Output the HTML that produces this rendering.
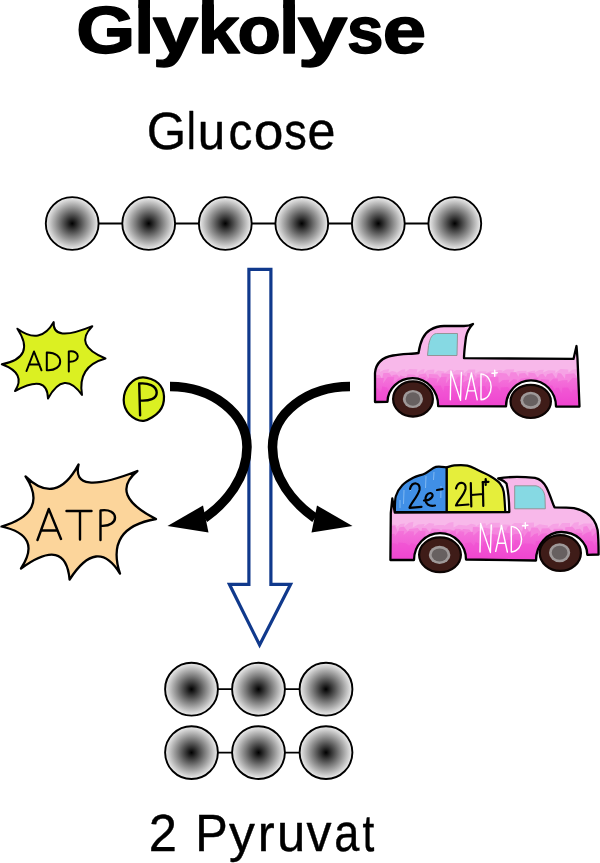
<!DOCTYPE html>
<html><head><meta charset="utf-8"><title>Glykolyse</title>
<style>
html,body{margin:0;padding:0;background:#fff;}
body{width:600px;height:863px;overflow:hidden;}
svg{display:block;}
text{font-family:"Liberation Sans",sans-serif;fill:#000;}
</style></head><body>
<div id="stage" style="will-change:transform;width:600px;height:863px;background:#fff;">
<svg width="600" height="863" viewBox="0 0 600 863">
<defs>
<radialGradient id="ball" cx="50%" cy="50%" r="50%">
<stop offset="0" stop-color="#000"/>
<stop offset="0.5" stop-color="#7b7b7b"/>
<stop offset="1" stop-color="#f0f0f0"/>
</radialGradient>
<linearGradient id="pink1" gradientUnits="userSpaceOnUse" x1="0" y1="377" x2="0" y2="406">
<stop offset="0" stop-color="#f474da"/>
<stop offset="0.5" stop-color="#f25ed6"/>
<stop offset="1" stop-color="#ee3bcd"/>
</linearGradient>
<linearGradient id="pink2" gradientUnits="userSpaceOnUse" x1="0" y1="531" x2="0" y2="560">
<stop offset="0" stop-color="#f474da"/>
<stop offset="0.5" stop-color="#f25ed6"/>
<stop offset="1" stop-color="#ee3bcd"/>
</linearGradient>
<clipPath id="c1"><path d="M375 402L375 373C376 362 384 357 393 355.5C402 354 412 354 418.5 353C420 343 423 334 430 330C435 327 440 326 444 326L464 326C468 326 471 325 473 324C469 328 467 332 466 337C465 345 464 352 464 358.2L573.5 358.9L576.5 346L577.5 358.9L579.5 406.5L556.0 406.6C556.0 392.1 544.8 380.3 531.0 380.3C517.2 380.3 506.0 392.0 506.0 406.4L438.2 406.2C438.2 390.7 426.8 378.1 412.7 378.1C398.8 378.1 387.5 388.7 387.5 401.8L375 402Z"/></clipPath>
<clipPath id="c2"><path d="M392.3 498.5L394.8 512.6L509.3 512C509.2 502 508.5 492 506.5 483.5C504 481 501 479.5 498.2 478.4C506 477 520 476.5 535 477.8C540.5 479 544 482.5 546.5 487.5C549.5 493.5 551.5 500 553.5 505L554.5 507.3C562 507.3 568 507.3 574 508.2C579 509.3 583 510.8 586.5 513C592 516.5 596 522 597.6 530C598.4 537 598.6 546 598.6 554.5L587.3 554.8C587.3 542.2 575.7 532.0 561.3 532.0C547.3 532.0 536.0 544.8 536.0 560.5L466.0 559.5C466.0 544.9 454.4 533.1 440.0 533.1C425.6 533.1 414.0 545.1 414.0 560.0L390.4 560L390.8 513Z"/></clipPath>
</defs>
<rect width="600" height="863" fill="#fff"/>
<text transform="translate(76.15,53.00) scale(1.1421,1.0000)" font-size="66.40" font-weight="bold" stroke="#000" stroke-width="1.50" stroke-linejoin="round">G</text><text transform="translate(134.27,53.00) scale(1.0852,1.0000)" font-size="66.40" font-weight="bold" stroke="#000" stroke-width="1.50" stroke-linejoin="round">l</text><text transform="translate(152.87,53.00) scale(1.2329,1.0000)" font-size="66.40" font-weight="bold" stroke="#000" stroke-width="1.50" stroke-linejoin="round">y</text><text transform="translate(197.56,53.00) scale(1.1378,1.0000)" font-size="66.40" font-weight="bold" stroke="#000" stroke-width="1.50" stroke-linejoin="round">k</text><text transform="translate(237.53,53.00) scale(1.0707,1.0000)" font-size="66.40" font-weight="bold" stroke="#000" stroke-width="1.50" stroke-linejoin="round">o</text><text transform="translate(279.00,53.00) scale(1.1041,1.0000)" font-size="66.40" font-weight="bold" stroke="#000" stroke-width="1.50" stroke-linejoin="round">l</text><text transform="translate(297.81,53.00) scale(1.3437,1.0000)" font-size="66.40" font-weight="bold" stroke="#000" stroke-width="1.50" stroke-linejoin="round">y</text><text transform="translate(346.94,53.00) scale(0.9889,1.0000)" font-size="66.40" font-weight="bold" stroke="#000" stroke-width="1.50" stroke-linejoin="round">s</text><text transform="translate(382.84,53.00) scale(1.1766,1.0000)" font-size="66.40" font-weight="bold" stroke="#000" stroke-width="1.50" stroke-linejoin="round">e</text>
<path d="M138.3 0H150V8H138.3ZM202.2 0H213.8V8H202.2ZM283.2 0H294.9V8H283.2Z" fill="#000"/>
<text transform="translate(146.66,149.40) scale(1.4083,1.4306)" font-size="36.00" stroke="#000" stroke-width="0.28" stroke-linejoin="round">G</text><text transform="translate(186.73,149.40) scale(1.1312,1.4306)" font-size="36.00" stroke="#000" stroke-width="0.28" stroke-linejoin="round">l</text><text transform="translate(197.69,149.40) scale(1.3672,1.4306)" font-size="36.00" stroke="#000" stroke-width="0.28" stroke-linejoin="round">u</text><text transform="translate(228.48,149.40) scale(1.3265,1.4306)" font-size="36.00" stroke="#000" stroke-width="0.28" stroke-linejoin="round">c</text><text transform="translate(253.67,149.40) scale(1.4822,1.4306)" font-size="36.00" stroke="#000" stroke-width="0.28" stroke-linejoin="round">o</text><text transform="translate(284.21,149.40) scale(1.2519,1.4306)" font-size="36.00" stroke="#000" stroke-width="0.28" stroke-linejoin="round">s</text><text transform="translate(307.59,149.40) scale(1.3954,1.4306)" font-size="36.00" stroke="#000" stroke-width="0.28" stroke-linejoin="round">e</text>
<text transform="translate(148.67,851.40) scale(1.4073,1.4167)" font-size="36.00" stroke="#000" stroke-width="0.28" stroke-linejoin="round">2</text><text transform="translate(195.20,851.40) scale(1.3533,1.4167)" font-size="36.00" stroke="#000" stroke-width="0.28" stroke-linejoin="round">P</text><text transform="translate(228.88,851.40) scale(1.4384,1.4167)" font-size="36.00" stroke="#000" stroke-width="0.28" stroke-linejoin="round">y</text><text transform="translate(257.74,851.40) scale(1.4115,1.4167)" font-size="36.00" stroke="#000" stroke-width="0.28" stroke-linejoin="round">r</text><text transform="translate(276.90,851.40) scale(1.4119,1.4167)" font-size="36.00" stroke="#000" stroke-width="0.28" stroke-linejoin="round">u</text><text transform="translate(306.50,851.40) scale(1.3893,1.4167)" font-size="36.00" stroke="#000" stroke-width="0.28" stroke-linejoin="round">v</text><text transform="translate(334.29,851.40) scale(1.2509,1.4167)" font-size="36.00" stroke="#000" stroke-width="0.28" stroke-linejoin="round">a</text><text transform="translate(362.53,851.40) scale(1.1792,1.4167)" font-size="36.00" stroke="#000" stroke-width="0.28" stroke-linejoin="round">t</text>
<line x1="72" y1="223.5" x2="454" y2="223.5" stroke="#000" stroke-width="1.8"/>
<circle cx="72.2" cy="223.5" r="26.4" fill="url(#ball)" stroke="#000" stroke-width="1.9"/>
<circle cx="148.7" cy="223.5" r="26.4" fill="url(#ball)" stroke="#000" stroke-width="1.9"/>
<circle cx="225.3" cy="223.5" r="26.4" fill="url(#ball)" stroke="#000" stroke-width="1.9"/>
<circle cx="301.8" cy="223.5" r="26.4" fill="url(#ball)" stroke="#000" stroke-width="1.9"/>
<circle cx="378.3" cy="223.5" r="26.4" fill="url(#ball)" stroke="#000" stroke-width="1.9"/>
<circle cx="454.8" cy="223.5" r="26.4" fill="url(#ball)" stroke="#000" stroke-width="1.9"/>
<line x1="192" y1="689.2" x2="327" y2="689.2" stroke="#000" stroke-width="1.8"/>
<circle cx="191.5" cy="689.2" r="26.4" fill="url(#ball)" stroke="#000" stroke-width="1.9"/>
<circle cx="258.5" cy="689.2" r="26.4" fill="url(#ball)" stroke="#000" stroke-width="1.9"/>
<circle cx="326.0" cy="689.2" r="26.4" fill="url(#ball)" stroke="#000" stroke-width="1.9"/>
<line x1="192" y1="752.6" x2="327" y2="752.6" stroke="#000" stroke-width="1.8"/>
<circle cx="191.5" cy="752.6" r="26.4" fill="url(#ball)" stroke="#000" stroke-width="1.9"/>
<circle cx="258.5" cy="752.6" r="26.4" fill="url(#ball)" stroke="#000" stroke-width="1.9"/>
<circle cx="326.0" cy="752.6" r="26.4" fill="url(#ball)" stroke="#000" stroke-width="1.9"/>
<path d="M248.9 269.3L270.9 269.3L270.9 584.3L290.6 584.3L259.6 645L229.4 584.3L248.9 584.3Z" fill="none" stroke="#10398c" stroke-width="3.2" stroke-linejoin="miter"/>
<path d="M170 386.5C212.4 386.5 247 413.6 247 447C247 478 226 503 204.5 518" fill="none" stroke="#000" stroke-width="9.5"/>
<path d="M167.5 526L203 505.5L208.5 532.5Z" fill="#000"/>
<path d="M350 386.5C306.6 386.5 272.5 413.6 272.5 447C272.5 478 293.5 503 315 518" fill="none" stroke="#000" stroke-width="9.5"/>
<path d="M352.5 526L317 505.5L311.5 532.5Z" fill="#000"/>
<path d="M53.7 322.0Q52.0 342.9 92.3 326.2Q73.1 345.6 105.5 358.5Q77.2 366.2 82.0 395.0Q64.0 369.2 48.0 398.5Q47.5 373.2 15.0 391.0Q26.6 373.4 1.8 364.3Q36.4 357.5 17.4 328.7Q40.5 345.6 53.7 322.0Z" fill="#dbf022" stroke="#000" stroke-width="2" stroke-linejoin="round"/>
<g fill="none" stroke="#000" stroke-width="2" stroke-linecap="round" stroke-linejoin="round"><path d="M26.5 371L34 351.5L41.5 370.3M28.8 364.5L39.5 364.5"/><path d="M46.8 352.5L46.8 370.2C64.3 371.5 65 352 46.8 352.5"/><path d="M68.8 371.5L68.8 351.5C80.5 349.5 81 362.5 69 361.8"/></g>
<path d="M142.7 377.4C147.5 377.2 154.8 380.0 158.3 383.2C161.9 386.4 163.8 391.8 164.0 396.5C164.2 401.2 162.8 407.1 159.4 411.2C156.0 415.2 148.8 420.2 143.8 420.8C138.8 421.4 132.8 418.0 129.5 414.5C126.2 411.0 123.7 405.0 123.7 400.0C123.7 395.0 126.3 388.1 129.5 384.3C132.7 380.5 137.9 377.6 142.7 377.4Z" fill="#dbf022" stroke="#000" stroke-width="2.2"/>
<path d="M140.1 415.2L139.2 383.5C148 382.6 156.5 385.5 156.7 392.5C156.8 399 149 401 140.7 400.6" fill="none" stroke="#000" stroke-width="2.4" stroke-linecap="round" stroke-linejoin="round"/>
<path d="M78.6 464.4Q70.8 497.1 137.4 471.0Q108.3 495.0 156.0 519.0Q105.0 527.7 120.0 573.6Q97.2 536.4 69.6 579.6Q65.7 536.0 21.0 568.5Q42.8 535.5 1.5 526.5Q49.5 512.5 25.5 476.4Q56.0 506.4 78.6 464.4Z" fill="#fcd59b" stroke="#000" stroke-width="2.3" stroke-linejoin="round"/>
<g fill="none" stroke="#000" stroke-width="2.4" stroke-linecap="round" stroke-linejoin="round"><path d="M37.5 540L48.8 509L61 539M41.5 530.5L57 530.5"/><path d="M66.5 511L91.5 511M80 511L80 539.5"/><path d="M100.5 540L100.5 510.5C119.5 507.5 120 527 101 525.8"/></g>
<g clip-path="url(#c1)"><rect x="367" y="313" width="220" height="110" fill="#f8b8ea"/><path d="M372.0 433.8L372.0 372.4L376.8 369.2L380.2 368.9L380.0 371.9L383.6 370.1L389.2 369.1L388.3 372.6L392.1 370.9L396.4 371.9L396.4 373.0L401.8 369.8L405.1 369.3L405.4 372.1L409.5 369.1L417.4 369.3L416.7 373.1L421.3 369.7L424.6 369.0L423.7 373.2L427.8 369.9L434.4 369.4L434.0 373.4L438.0 370.5L444.5 371.4L444.3 373.3L449.7 369.5L453.4 370.1L453.1 372.1L456.6 370.0L463.6 370.2L463.8 373.6L468.7 369.6L475.2 369.5L475.1 373.5L479.6 371.2L486.6 371.6L485.6 373.1L490.8 371.3L495.5 371.7L495.1 371.8L498.9 370.0L502.6 370.6L501.7 372.1L506.0 369.4L514.2 369.3L513.3 372.9L518.5 371.0L526.7 370.8L526.1 372.5L531.5 371.0L535.4 370.4L534.7 372.3L539.3 370.0L543.9 369.8L542.9 372.5L548.3 370.2L555.5 370.5L555.2 373.2L560.5 368.9L568.2 369.6L568.5 372.6L572.2 369.8L579.0 368.8L578.1 372.2L582.3 369.2L585.6 368.4L582.0 433.8Z" fill="#f6a2e5"/><path d="M372.0 438.8L372.0 376.8L372.3 375.4L379.5 374.8L382.1 378.8L383.4 373.0L389.1 373.0L392.3 376.7L392.5 375.0L396.9 374.4L399.4 377.3L400.2 375.2L403.9 376.4L406.8 376.4L407.5 374.3L414.5 374.8L417.5 377.5L419.3 374.4L425.8 373.4L428.5 378.7L428.9 373.9L437.6 374.4L440.9 378.5L441.6 373.2L449.9 373.9L452.6 376.5L454.0 374.5L462.7 374.6L466.5 376.7L467.5 372.8L473.6 373.8L476.2 377.5L476.7 374.6L481.1 374.2L483.6 376.9L484.4 373.7L492.4 372.9L496.2 377.2L497.6 372.8L506.4 373.5L509.2 377.0L510.7 372.3L515.8 372.2L518.5 376.8L519.4 373.6L524.9 373.1L528.3 376.4L528.5 372.6L534.7 373.3L537.7 377.5L539.7 374.6L543.0 373.7L545.6 377.2L547.1 374.2L552.2 373.0L556.1 378.4L557.9 373.0L561.1 373.6L565.0 378.8L565.4 374.2L574.2 373.2L577.3 377.8L578.3 373.9L582.2 374.1L582.0 438.8Z" fill="#f586de"/><path d="M372.0 443.8L372.0 382.3L375.8 378.1L384.0 378.1L383.0 383.5L387.6 377.1L394.3 376.8L393.4 383.0L398.3 378.4L402.2 377.4L401.6 382.4L406.3 380.0L413.9 380.6L413.5 381.3L418.4 377.8L425.7 376.8L425.3 381.7L429.4 377.5L437.3 378.5L436.6 383.5L440.8 377.0L446.8 376.8L445.8 383.5L450.5 377.2L454.2 378.1L454.1 381.6L457.8 376.8L464.0 375.8L463.0 382.4L467.4 380.0L472.8 379.0L472.7 382.6L477.4 377.4L486.2 377.5L485.3 382.7L489.3 377.3L498.3 376.4L498.8 383.0L502.7 380.1L509.4 379.8L508.5 382.9L513.5 378.9L517.0 379.7L516.6 382.6L520.9 378.4L529.8 377.2L529.6 383.2L534.0 378.0L538.3 377.5L538.0 381.2L541.7 379.0L549.4 379.7L548.4 383.3L553.3 378.5L557.8 378.4L557.9 381.6L562.2 380.2L567.5 379.9L567.7 382.9L572.9 377.4L577.5 378.5L576.6 381.5L582.0 380.1L588.7 379.1L582.0 443.8Z" fill="url(#pink1)"/><path d="M372.0 453.8L372.0 392.4L373.2 387.5L377.4 388.3L381.1 392.7L382.2 386.4L387.1 387.5L390.0 393.8L391.7 386.0L398.3 385.5L401.4 392.8L402.8 387.6L409.8 388.3L412.4 393.7L413.7 389.7L416.9 388.8L419.4 393.6L420.2 387.0L428.6 387.1L431.5 392.0L432.7 386.1L440.8 385.4L443.5 391.9L444.5 385.9L452.4 386.0L455.9 393.3L457.0 386.4L462.3 385.5L465.7 393.1L466.0 386.2L473.9 386.0L477.8 391.9L478.3 386.8L485.0 385.9L487.8 392.1L489.1 386.5L497.0 386.4L500.7 391.7L500.7 387.5L508.0 387.1L511.0 390.9L512.1 387.6L517.5 388.0L521.3 391.4L523.1 387.9L529.2 386.9L532.6 392.2L533.4 387.6L539.0 387.7L542.3 392.2L543.2 386.5L552.0 385.3L555.1 390.6L555.3 387.9L558.8 387.8L561.5 393.8L562.4 387.7L568.0 387.6L571.3 392.9L572.7 389.4L578.2 390.4L581.7 391.1L582.9 386.7L590.0 387.0L582.0 453.8Z" fill="#f04cd2" opacity="0.55"/></g>
<path d="M375 402L375 373C376 362 384 357 393 355.5C402 354 412 354 418.5 353C420 343 423 334 430 330C435 327 440 326 444 326L464 326C468 326 471 325 473 324C469 328 467 332 466 337C465 345 464 352 464 358.2L573.5 358.9L576.5 346L577.5 358.9L579.5 406.5L556.0 406.6C556.0 392.1 544.8 380.3 531.0 380.3C517.2 380.3 506.0 392.0 506.0 406.4L438.2 406.2C438.2 390.7 426.8 378.1 412.7 378.1C398.8 378.1 387.5 388.7 387.5 401.8L375 402Z" fill="none" stroke="#000" stroke-width="2.3" stroke-linejoin="round"/>
<path d="M436.5 333.5L457.5 333.5L457 355.5L427.5 355.5L428.5 345.5C430 338 432 334 436.5 333.5Z" fill="#86d9e3" stroke="#8d8d8d" stroke-width="0.9"/>
<ellipse cx="413.0" cy="399.0" rx="19.9" ry="17.6" fill="#3f1c18" stroke="#0c0403" stroke-width="2.2"/><ellipse cx="412.9" cy="399.0" rx="10.1" ry="9.1" fill="#9f9999"/><ellipse cx="412.9" cy="399.0" rx="7.3" ry="6.7" fill="#676060"/>
<ellipse cx="530.7" cy="401.4" rx="20.2" ry="16.6" fill="#3f1c18" stroke="#0c0403" stroke-width="2.2"/><ellipse cx="530.7" cy="400.3" rx="10.3" ry="8.6" fill="#9f9999"/><ellipse cx="530.7" cy="400.3" rx="7.5" ry="6.0" fill="#676060"/>
<path d="M450.3 399.8L450.9 371.0L460.5 400.4L461.4 372.4M465.7 399.2L471.4 373.0L477.2 399.8M467.7 390.9L475.4 390.9M481.0 373.9L481.0 399.8C494.5 398.9 494.5 375.0 481.0 373.9M492.0 373.3L497.3 372.7M494.7 370.1L494.7 376.2" fill="none" stroke="#fff" stroke-width="1.4" stroke-linecap="round" stroke-linejoin="round"/>
<path d="M394.8 511.8C395.0 509.2 394.6 500.6 395.8 496.2C397.1 491.8 399.4 488.4 402.3 485.3C405.2 482.2 409.4 479.8 413.2 477.8C417.0 475.8 421.3 475.2 425.1 473.4C428.9 471.6 432.3 467.9 435.9 466.9C439.5 465.9 445.0 467.3 446.8 467.4L446.8 512Z" fill="#408fe6" stroke="#000" stroke-width="2.2" stroke-linejoin="round"/>
<path d="M446.8 467.4C448.1 467.1 450.9 465.7 454.3 465.4C457.7 465.1 463.3 464.8 467.3 465.6C471.3 466.4 474.2 468.4 478.2 470.2C482.2 472.0 487.6 474.5 491.2 476.7C494.8 478.9 497.7 480.7 499.8 483.2C501.9 485.7 502.8 487.0 503.7 491.8C504.6 496.6 505.0 508.5 505.3 511.8L446.8 512Z" fill="#e5ee3b" stroke="#000" stroke-width="2.2" stroke-linejoin="round"/>
<g stroke="#8fc2f4" stroke-width="1" opacity="0.8" fill="none"><path d="M404 490L403.5 504M411 484L410.5 491M426 476L425.5 488M434 472L433.5 480M441 486L440.8 498M400 500L400 508"/></g>
<g clip-path="url(#c2)"><rect x="381" y="467" width="228" height="110" fill="#f8b8ea"/><path d="M386.0 587.6L386.0 525.9L390.8 524.3L396.6 525.0L396.0 527.2L400.5 523.9L404.9 523.6L403.9 526.8L409.0 522.8L413.4 521.7L412.7 527.6L418.0 524.4L424.7 524.0L423.7 526.6L429.1 522.9L434.3 523.7L433.6 525.8L438.0 524.9L444.3 524.9L443.8 526.0L449.0 522.7L453.4 522.0L453.6 527.5L458.6 524.8L466.2 525.4L466.1 525.8L471.2 523.8L475.4 524.7L475.8 526.4L480.2 523.5L485.5 523.2L486.0 525.7L491.0 522.8L499.9 522.8L499.7 526.7L503.6 524.5L510.3 524.8L510.1 526.0L514.3 523.0L522.9 523.3L522.4 526.2L526.0 522.9L533.9 522.6L534.1 527.0L539.4 524.3L548.1 525.5L547.7 527.5L553.0 524.1L558.9 523.5L558.5 527.4L562.1 523.0L570.0 523.0L570.1 527.3L574.1 522.7L578.9 521.9L578.5 525.7L583.8 523.4L592.7 523.4L592.8 526.1L597.4 525.0L604.7 524.3L603.8 527.3L609.1 524.6L615.7 524.8L604.0 587.6Z" fill="#f6a2e5"/><path d="M386.0 592.6L386.0 532.5L386.0 526.6L395.0 525.6L397.8 531.7L399.6 527.2L404.0 526.8L407.9 531.6L409.3 529.1L417.8 528.0L421.4 532.3L422.0 528.0L426.2 528.2L429.9 532.4L431.9 528.6L438.3 528.9L441.8 530.7L442.4 529.2L450.1 529.6L454.0 530.4L455.4 528.8L459.5 528.9L462.1 530.1L463.1 529.1L469.2 529.5L472.3 532.4L473.0 527.1L479.5 527.3L482.5 531.4L483.8 527.5L490.0 528.7L492.6 530.9L493.4 527.5L502.0 527.5L505.9 531.0L507.7 526.4L511.8 526.1L515.1 530.9L515.5 527.3L518.7 528.0L522.0 531.7L523.4 526.8L526.7 527.5L529.8 532.4L531.5 527.6L537.5 527.8L540.8 532.6L541.7 528.5L549.1 528.2L552.6 532.0L553.8 528.8L562.4 528.8L565.0 531.6L565.3 527.2L572.4 526.7L575.6 530.1L576.3 529.2L580.0 528.7L582.8 532.3L583.4 526.7L587.0 526.0L590.2 530.9L592.0 528.5L600.0 528.2L602.6 532.2L603.0 526.2L608.9 526.8L604.0 592.6Z" fill="#f586de"/><path d="M386.0 597.6L386.0 537.4L391.3 533.9L394.8 533.7L394.7 536.3L398.6 531.1L404.2 530.9L403.6 534.9L408.5 530.9L414.0 531.5L413.8 535.8L418.8 530.8L425.4 531.1L425.4 537.5L430.4 531.9L435.6 532.3L435.5 535.7L439.9 530.9L447.2 530.8L447.1 536.6L450.9 531.2L455.9 530.5L456.1 535.1L459.7 530.9L464.3 531.7L464.2 535.7L468.3 531.9L473.1 532.0L473.3 535.5L478.3 531.0L485.6 530.3L485.8 536.3L490.5 533.8L499.2 535.0L498.4 535.0L502.0 532.1L509.8 533.2L509.9 537.1L514.5 533.9L523.4 533.6L523.5 537.5L527.4 531.9L530.8 531.2L530.5 537.4L534.5 533.9L538.1 533.1L537.9 536.3L541.9 533.4L547.4 533.3L547.8 535.8L552.9 533.7L561.3 533.5L561.3 536.7L566.1 533.5L570.5 533.3L570.0 537.0L574.6 532.5L582.5 532.9L581.7 535.7L586.9 532.6L591.3 531.5L591.8 536.4L595.7 532.5L602.1 532.4L601.8 536.8L606.1 530.6L613.8 531.5L604.0 597.6Z" fill="url(#pink2)"/><path d="M386.0 607.6L386.0 546.7L386.4 543.0L395.4 543.4L398.1 544.7L398.4 542.6L405.7 543.3L409.3 545.8L411.3 543.1L414.9 544.2L418.2 546.8L418.8 541.4L427.5 542.0L430.2 547.1L430.8 540.2L435.7 539.9L439.0 547.3L439.6 543.3L448.0 542.3L450.6 546.5L452.2 542.8L461.2 542.2L465.0 546.8L465.1 543.3L471.1 542.4L473.8 545.9L475.8 542.3L479.6 543.5L482.8 546.8L483.3 541.7L490.1 542.1L493.0 546.5L494.6 541.2L500.0 542.0L503.2 545.2L504.4 540.3L510.0 539.7L513.8 545.6L514.7 539.8L519.6 540.5L522.7 544.5L524.2 543.6L532.0 543.7L535.3 545.7L535.8 541.2L540.6 540.8L543.5 547.3L544.8 542.8L547.9 542.9L550.8 546.6L552.1 541.3L560.5 541.0L563.4 546.8L564.9 540.9L570.2 540.8L572.8 544.6L574.5 542.7L580.6 542.1L584.5 545.8L584.6 540.3L592.5 541.3L595.1 546.2L595.2 542.4L603.6 541.5L604.0 607.6Z" fill="#f04cd2" opacity="0.55"/></g>
<path d="M392.3 498.5L394.8 512.6L509.3 512C509.2 502 508.5 492 506.5 483.5C504 481 501 479.5 498.2 478.4C506 477 520 476.5 535 477.8C540.5 479 544 482.5 546.5 487.5C549.5 493.5 551.5 500 553.5 505L554.5 507.3C562 507.3 568 507.3 574 508.2C579 509.3 583 510.8 586.5 513C592 516.5 596 522 597.6 530C598.4 537 598.6 546 598.6 554.5L587.3 554.8C587.3 542.2 575.7 532.0 561.3 532.0C547.3 532.0 536.0 544.8 536.0 560.5L466.0 559.5C466.0 544.9 454.4 533.1 440.0 533.1C425.6 533.1 414.0 545.1 414.0 560.0L390.4 560L390.8 513Z" fill="none" stroke="#000" stroke-width="2.3" stroke-linejoin="round"/>
<path d="M514.7 485.8L536 485.8C541 487 544.6 491 545 497.5L545.3 508.8L514.7 508.8Z" fill="#86d9e3" stroke="#8d8d8d" stroke-width="0.9"/>
<ellipse cx="440.0" cy="554.8" rx="20.9" ry="17.4" fill="#3f1c18" stroke="#0c0403" stroke-width="2.2"/><ellipse cx="439.6" cy="554.9" rx="10.8" ry="9.1" fill="#9f9999"/><ellipse cx="439.6" cy="554.9" rx="8.0" ry="6.5" fill="#676060"/>
<ellipse cx="560.3" cy="553.0" rx="20.6" ry="17.9" fill="#3f1c18" stroke="#0c0403" stroke-width="2.2"/><ellipse cx="559.6" cy="552.7" rx="10.6" ry="9.5" fill="#9f9999"/><ellipse cx="559.6" cy="552.7" rx="7.9" ry="7.0" fill="#676060"/>
<path d="M480.0 552.0L480.6 523.5L490.4 552.6L491.3 524.9M495.7 551.4L501.5 525.5L507.4 552.0M497.7 543.2L505.6 543.2M511.3 526.4L511.3 552.0C525.0 551.1 525.0 527.5 511.3 526.4M522.5 525.8L527.9 525.2M525.3 522.6L525.3 528.6" fill="none" stroke="#fff" stroke-width="1.4" stroke-linecap="round" stroke-linejoin="round"/>
<g fill="none" stroke="#000" stroke-width="2.2" stroke-linecap="round" stroke-linejoin="round"><path d="M410 489C412 481 421 482 419.5 490C417.5 497 411 503 409.5 507.8L421.5 506.8"/><path d="M424 500.5C431 501 435.5 494.5 430.5 493C424 492.5 422 508 435 505.5"/><path d="M437 490L442.5 489.2"/><path d="M456 488.5C457.5 480.5 467 481.5 465.5 489C464 495.5 457.5 501 456 505.5L468.5 504.5"/><path d="M470.8 483L471.3 506.5M482.8 482L483.3 506M471.3 495L483.2 494"/><path d="M482.8 482.2L488.5 481.8M485.7 479L485.7 485"/></g>
</svg>
</div>
</body></html>
